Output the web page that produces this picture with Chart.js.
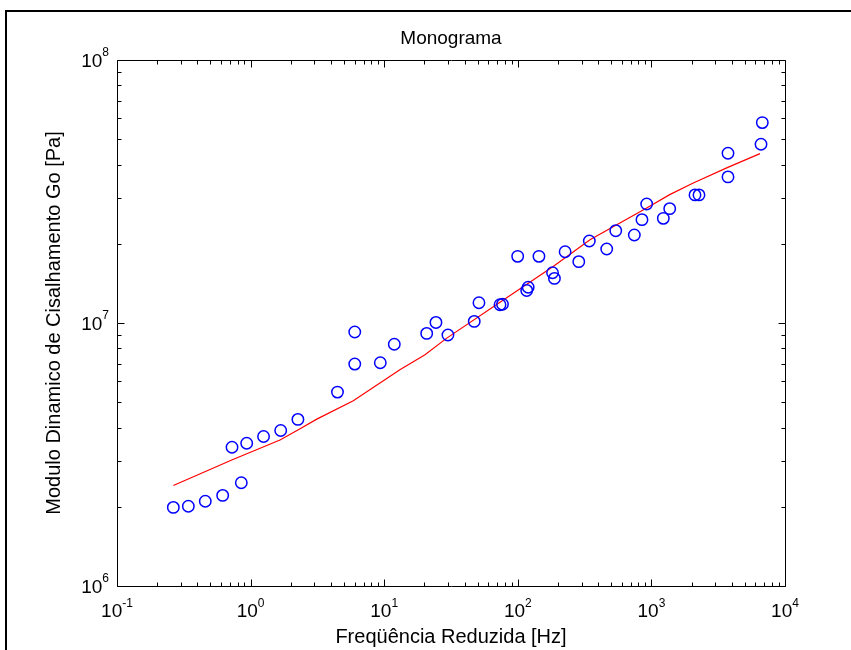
<!DOCTYPE html>
<html><head><meta charset="utf-8">
<script src="https://cdn.jsdelivr.net/npm/chart.js@4/dist/chart.umd.min.js"></script>
<style>html,body{margin:0;padding:0;background:#fff;overflow:hidden}#wrap{width:851px;height:650px;position:relative}canvas{display:block}</style>
</head><body><div id="wrap"><canvas id="c" width="851" height="650"></canvas></div>
<script>
// ---- data ----
const freqHz = [0.264, 0.342, 0.458, 0.618, 0.852, 0.726, 0.935, 1.25, 1.68, 2.26, 4.47, 6.02, 6.02, 9.35, 11.9, 20.8, 24.4, 30.0, 47.2, 51.2, 73.6, 76.8, 99.8, 116.6, 119.6, 144, 182, 188, 226, 286, 343, 463, 541, 745, 850, 922, 1228, 1371, 2120, 2271, 3744, 3744, 6614, 6763];
const modulusPa = [1.99e6, 2.01e6, 2.10e6, 2.21e6, 2.47e6, 3.37e6, 3.49e6, 3.70e6, 3.90e6, 4.30e6, 5.46e6, 9.24e6, 6.98e6, 7.06e6, 8.30e6, 9.13e6, 1.005e7, 9.00e6, 1.014e7, 1.194e7, 1.173e7, 1.178e7, 1.792e7, 1.330e7, 1.368e7, 1.792e7, 1.553e7, 1.478e7, 1.867e7, 1.711e7, 2.051e7, 1.911e7, 2.244e7, 2.161e7, 2.472e7, 2.836e7, 2.500e7, 2.721e7, 3.069e7, 3.069e7, 4.418e7, 3.593e7, 4.781e7, 5.781e7];
const fitFreqHz = [0.264, 0.73, 1.66, 2.26, 3.13, 5.87, 13.1, 20.2, 29.4, 73.6, 184, 347, 922, 1371, 2058, 3660, 6500];
const fitModulusPa = [2.41e6, 3.02e6, 3.59e6, 3.92e6, 4.31e6, 5.06e6, 6.64e6, 7.57e6, 8.76e6, 1.199e7, 1.641e7, 2.074e7, 2.738e7, 3.077e7, 3.409e7, 3.889e7, 4.406e7];
const xTickExponents = [-1, 0, 1, 2, 3, 4];
const yTickExponents = [6, 7, 8];
const chartTitle = 'Monograma';
const xAxisTitle = 'Freqüência Reduzida [Hz]';
const yAxisTitle = 'Modulo Dinamico de Cisalhamento Go [Pa]';

const FONT = "'Liberation Sans', Arial, Helvetica, sans-serif";

const matlabAxes = {
  id: 'matlabAxes',
  afterDraw(chart) {
    const ctx = chart.ctx, a = chart.chartArea;
    const xs = chart.scales.x, ys = chart.scales.y;
    ctx.save();
    // outer figure frame
    ctx.fillStyle = '#000';
    ctx.fillRect(5, 10, 846, 2);
    ctx.fillRect(5, 10, 2, 640);
    // box
    ctx.strokeStyle = '#000';
    ctx.lineWidth = 1;
    const L = Math.round(a.left) + 0.5, R = Math.round(a.right) + 0.5,
          T = Math.round(a.top) + 0.5, B = Math.round(a.bottom) + 0.5;
    ctx.beginPath();
    ctx.moveTo(L, T); ctx.lineTo(R, T); ctx.lineTo(R, B); ctx.lineTo(L, B); ctx.closePath();
    ctx.stroke();
    // ticks
    const MAJ = 7, MIN = 4;
    ctx.beginPath();
    const xMin = xTickExponents[0], xMax = xTickExponents[xTickExponents.length - 1];
    for (let e = xMin; e <= xMax; e++) {
      for (let k = 1; k <= 9; k++) {
        if (e === xMax && k > 1) break;
        const v = k * Math.pow(10, e);
        const p = Math.round(xs.getPixelForValue(v)) + 0.5;
        const len = k === 1 ? MAJ : MIN;
        ctx.moveTo(p, B); ctx.lineTo(p, B - len);
        ctx.moveTo(p, T); ctx.lineTo(p, T + len);
      }
    }
    const yMin = yTickExponents[0], yMax = yTickExponents[yTickExponents.length - 1];
    for (let e = yMin; e <= yMax; e++) {
      for (let k = 1; k <= 9; k++) {
        if (e === yMax && k > 1) break;
        const v = k * Math.pow(10, e);
        const p = Math.round(ys.getPixelForValue(v)) + 0.5;
        const len = k === 1 ? MAJ : MIN;
        ctx.moveTo(L, p); ctx.lineTo(L + len, p);
        ctx.moveTo(R, p); ctx.lineTo(R - len, p);
      }
    }
    ctx.stroke();
    // tick labels
    ctx.fillStyle = '#000';
    ctx.textBaseline = 'alphabetic';
    ctx.textAlign = 'left';
    const baseFont = '19px ' + FONT, supFont = '12px ' + FONT;
    xTickExponents.forEach(e => {
      const p = xs.getPixelForValue(Math.pow(10, e));
      ctx.font = baseFont; const w1 = ctx.measureText('10').width;
      ctx.font = supFont; const w2 = ctx.measureText(String(e)).width;
      const x0 = p - (w1 + w2) / 2;
      ctx.font = baseFont; ctx.fillText('10', x0, a.bottom + 31);
      ctx.font = supFont; ctx.fillText(String(e), x0 + w1, a.bottom + 21);
    });
    yTickExponents.forEach(e => {
      const p = ys.getPixelForValue(Math.pow(10, e));
      ctx.font = baseFont; const w1 = ctx.measureText('10').width;
      ctx.font = supFont; const w2 = ctx.measureText(String(e)).width;
      const x0 = a.left - 8 - (w1 + w2);
      ctx.font = baseFont; ctx.fillText('10', x0, p + 7);
      ctx.font = supFont; ctx.fillText(String(e), x0 + w1, p - 4);
    });
    // titles
    const cx = (a.left + a.right) / 2, cy = (a.top + a.bottom) / 2;
    ctx.textAlign = 'center';
    ctx.font = '19px ' + FONT;
    ctx.fillText(chartTitle, cx, 44);
    ctx.font = '20px ' + FONT;
    ctx.fillText(xAxisTitle, cx, 643);
    ctx.save();
    ctx.translate(60, cy);
    ctx.rotate(-Math.PI / 2);
    ctx.fillText(yAxisTitle, 0, 0);
    ctx.restore();
    ctx.restore();
  }
};

new Chart(document.getElementById('c'), {
  type: 'scatter',
  data: {
    datasets: [
      {
        label: 'Medido',
        data: freqHz.map((f, i) => ({ x: f, y: modulusPa[i] })),
        showLine: false,
        pointStyle: 'circle',
        pointRadius: 5.7,
        pointHoverRadius: 5.7,
        pointBorderWidth: 1.5,
        borderColor: '#0000ff',
        pointBorderColor: '#0000ff',
        backgroundColor: 'rgba(0,0,0,0)',
        pointBackgroundColor: 'rgba(0,0,0,0)'
      },
      {
        label: 'Modelo',
        data: fitFreqHz.map((f, i) => ({ x: f, y: fitModulusPa[i] })),
        showLine: true,
        pointRadius: 0,
        borderColor: '#ff0000',
        borderWidth: 1.2,
        tension: 0,
        fill: false
      }
    ]
  },
  options: {
    responsive: false,
    animation: false,
    devicePixelRatio: 1,
    layout: { padding: { left: 117, top: 60, right: 66, bottom: 64 }, autoPadding: false },
    plugins: { legend: { display: false }, tooltip: { enabled: false }, title: { display: false } },
    events: [],
    scales: {
      x: {
        type: 'logarithmic', min: 0.1, max: 10000, position: 'bottom',
        ticks: { display: false },
        grid: { display: false, drawTicks: false },
        border: { display: false },
        title: { display: false }
      },
      y: {
        type: 'logarithmic', min: 1e6, max: 1e8, position: 'left',
        ticks: { display: false },
        grid: { display: false, drawTicks: false },
        border: { display: false },
        title: { display: false }
      }
    }
  },
  plugins: [matlabAxes]
});
</script>
</body></html>
